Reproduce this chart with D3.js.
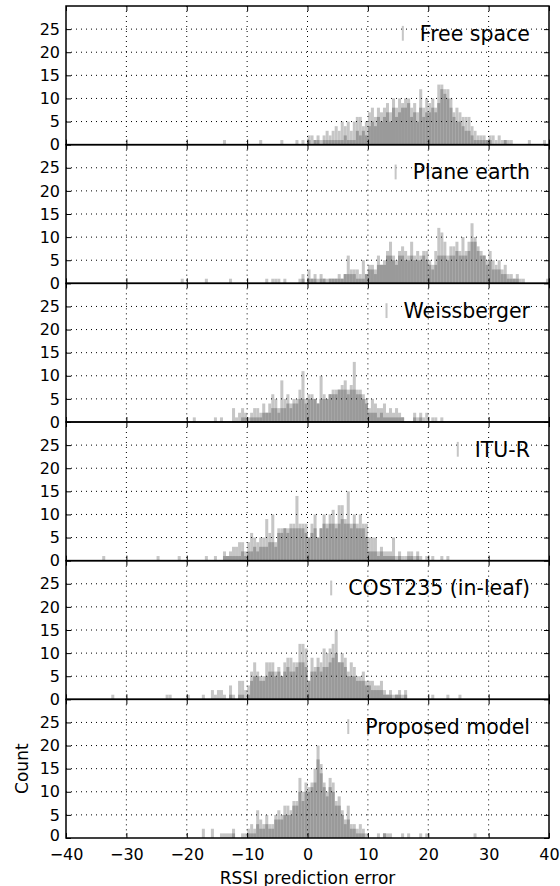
<!DOCTYPE html>
<html><head><meta charset="utf-8">
<script src="https://cdn.jsdelivr.net/npm/d3@7"></script>
<style>body{margin:0;background:#fff} svg text{font-family:"DejaVu Sans",sans-serif}</style>
</head><body><svg id="c" width="560" height="886"></svg>
<script>
// ---- data ----
const panelNames = ["Free space","Plane earth","Weissberger","ITU-R","COST235 (in-leaf)","Proposed model"];
const binWidth = 0.5;
const xTicks = [-40,-30,-20,-10,0,10,20,30,40];
const xTickLabels = ["\u221240","\u221230","\u221220","\u221210","0","10","20","30","40"];
const yTicks = [0,5,10,15,20,25];
const xLabel = "RSSI prediction error";
const yLabel = "Count";

// Panel 1: Free space (bins start at -14, step 0.5)
const p1Start = -14;
const p1Light = [1,0,0,0,0,0,0,0,0,0,0,0,1,0,0,0,0,0,0,1,0,0,0,0,1,0,1,0,
  2,2,1,2,1,2,3,2,3,4,3,5,4,5,3,5,6,6,4,5,
  7,8,6,8,7,8,9,7,10,8,10,9,10,10,8,9,7,12,8,10,
  9,10,8,13,13,12,12,10,7,8,7,6,6,6,4,3,2,2,2,1,
  2,2,1,2,1,1,1,1,0,0,0,0,0,1,0,0,0,0,1];
const p1Dark = [0,0,0,0,0,0,0,0,0,0,0,0,0,0,0,0,0,0,0,0,0,0,0,0,0,0,0,0,
  1,0,1,1,0,1,1,1,1,1,1,1,2,1,1,1,3,2,3,2,
  4,5,4,6,5,6,7,5,8,6,7,8,8,9,6,7,5,8,6,7,
  7,8,7,9,12,11,10,8,6,5,5,4,3,3,2,1,1,1,1,1,
  1,0,0,0,0,1,0,0,0,0,0,0,0,0,0,0,0,0,0];

// Panel 2: Plane earth
const p2Start = -21;
const p2Light = [1,0,0,0,0,0,0,0,1,0,0,0,0,0,0,0,1,0,0,0,0,0,0,0,0,0,0,0,1,0,1,1,1,0,1,0,0,0,0,1,2,0,
  3,1,2,1,2,1,1,1,1,1,2,1,2,6,3,3,3,2,5,2,
  4,4,3,6,4,5,7,9,6,5,7,8,7,6,9,6,7,6,7,7,
  5,4,7,12,11,9,6,8,8,9,7,10,7,9,13,10,8,7,6,5,
  7,5,4,5,3,4,2,2,1,2,1,1,0,0,0,0,0,0,0,1];
const p2Dark = [0,0,0,0,0,0,0,0,0,0,0,0,0,0,0,0,0,0,0,0,0,0,0,0,0,0,0,0,0,0,0,0,0,0,0,0,0,0,0,0,1,0,
  1,1,1,0,1,1,0,1,1,1,1,1,2,2,2,2,1,1,1,2,
  3,3,2,4,4,4,6,6,5,4,6,6,5,5,6,5,5,5,6,5,
  4,3,4,6,6,6,5,6,6,7,6,6,6,7,9,9,7,6,6,4,
  5,3,3,3,2,2,1,1,1,1,0,0,0,0,0,0,0,0,0,0];

// Panel 3: Weissberger
const p3Start = -19;
const p3Light = [1,0,0,0,0,0,0,1,0,1,0,0,0,3,1,2,3,2,1,2,
  3,3,2,4,2,4,6,5,3,9,5,6,4,5,5,7,11,5,
  6,6,5,4,10,6,5,6,7,7,7,8,9,7,8,13,7,7,6,5,
  3,5,4,3,3,4,2,3,2,3,2,1,0,0,0,2,1,2,1,2,
  0,1,1,0,1];
const p3Dark = [0,0,0,0,0,0,0,0,0,0,0,0,0,0,0,0,1,1,0,1,
  1,1,1,2,2,2,3,3,2,3,3,4,3,4,4,5,5,4,
  5,5,5,4,5,5,5,6,6,6,7,7,7,6,7,7,6,6,5,4,
  2,2,2,1,2,1,1,1,1,1,1,1,0,0,0,1,0,1,0,0,
  0,0,0,0,0];

// Panel 4: ITU-R
const p4Start = -34;
const p4Light = [1,0,0,0,0,0,0,0,0,0,0,0,0,0,0,0,0,0,1,0,0,0,0,0,0,1,0,0,0,0,0,0,0,0,1,0,0,1,0,0,
  2,1,2,3,3,4,4,2,4,6,5,4,5,5,9,6,10,4,7,7,7,7,8,8,14,8,8,8,
  5,8,10,5,7,10,8,10,11,8,12,12,9,15,8,10,8,10,8,8,
  5,5,5,2,3,2,2,2,5,1,2,1,1,2,2,1,2,1,0,1,
  0,1,0,0,1,0,1];
const p4Dark = [0,0,0,0,0,0,0,0,0,0,0,0,0,0,0,0,0,0,0,0,0,0,0,0,0,0,0,0,0,0,0,0,0,0,0,0,0,0,0,0,
  1,1,1,1,1,1,2,1,2,2,3,2,3,3,3,4,4,3,6,6,7,6,7,7,7,7,7,6,
  5,6,7,5,7,8,7,8,8,7,8,9,8,8,7,8,7,7,7,5,
  2,2,2,1,2,1,1,1,1,0,1,0,0,1,1,0,1,0,0,0,
  0,0,0,0,0,0,0];

// Panel 5: COST235 (in-leaf)
const p5Start = -32.5;
const p5Light = [1,0,0,0,0,0,0,0,0,0,0,0,0,0,0,0,0,0,1,1,0,0,0,0,0,1,0,0,0,0,1,0,0,2,1,2,2,1,0,3,1,0,4,4,2,3,
  6,8,6,5,5,8,8,8,6,7,5,8,9,9,8,8,12,12,11,
  4,9,7,9,8,11,10,11,12,15,8,10,9,6,8,7,5,5,6,4,
  4,4,3,3,4,2,1,2,1,1,2,1,2,0,0,0,0,0,0,0,
  0,1,0,0,0,0,1,0,0,0,1];
const p5Dark = [0,0,0,0,0,0,0,0,0,0,0,0,0,0,0,0,0,0,0,0,0,0,0,0,0,0,0,0,0,0,0,0,0,0,0,0,0,0,0,1,0,0,1,1,0,1,
  4,5,5,4,4,5,6,6,5,6,5,6,7,6,6,7,8,8,7,
  4,6,6,7,6,7,7,8,9,10,8,8,7,5,5,5,4,4,4,3,
  3,2,2,2,2,1,1,1,0,1,1,0,1,0,0,0,0,0,0,0,
  0,0,0,0,0,0,0,0,0,0,0];

// Panel 6: Proposed model
const p6Start = -18;
const p6Light = [0,2,0,0,2,0,0,1,1,1,1,2,0,0,1,1,
  2,3,2,6,4,3,5,3,3,5,6,5,7,7,6,8,8,13,10,12,
  11,12,15,20,16,12,10,13,12,8,9,6,4,7,3,3,2,3,2,1,
  0,0,0,1,0,1,1,1,0,0,0,1,0,1,0,0,0,1,0,1,
  0,0,0,0,0,0,0,0,0,0,0,0,0,0,0,1,0];
const p6Dark = [0,0,0,0,0,0,0,0,0,0,0,1,0,0,0,0,
  1,1,1,3,2,2,3,2,2,4,4,4,5,5,5,7,7,10,8,10,
  10,11,12,17,14,11,9,11,10,7,7,5,3,4,2,2,1,1,1,0,
  0,0,0,0,0,1,0,0,0,0,0,0,0,0,0,0,0,0,0,0,
  0,0,0,0,0,0,0,0,0,0,0,0,0,0,0,0,0];

const panels = [
  {name: panelNames[0], start: p1Start, light: p1Light, dark: p1Dark},
  {name: panelNames[1], start: p2Start, light: p2Light, dark: p2Dark},
  {name: panelNames[2], start: p3Start, light: p3Light, dark: p3Dark},
  {name: panelNames[3], start: p4Start, light: p4Light, dark: p4Dark},
  {name: panelNames[4], start: p5Start, light: p5Light, dark: p5Dark},
  {name: panelNames[5], start: p6Start, light: p6Light, dark: p6Dark}
];

// ---- layout ----
const mLeft = 66, mRight = 549, mTop = 6, mBottom = 838;
const nP = panels.length, ph = (mBottom - mTop) / nP;
const lightColor = "#c6c6c6", darkColor = "#9a9a9a";
const svg = d3.select("#c");
const x = d3.scaleLinear().domain([-40, 40]).range([mLeft, mRight]);
const y = d3.scaleLinear().domain([0, 30]).range([ph, 0]);

panels.forEach((p, i) => {
  const g = svg.append("g").attr("transform", `translate(0,${mTop + i * ph})`);
  const bins = p.light.map((v, k) => ({x0: p.start + k * binWidth, light: v, dark: p.dark[k]}));

  g.append("g").selectAll("rect").data(bins.filter(d => d.light > 0)).join("rect")
    .attr("x", d => x(d.x0)).attr("width", d => x(d.x0 + binWidth) - x(d.x0))
    .attr("y", d => y(d.light)).attr("height", d => ph - y(d.light))
    .attr("fill", lightColor);
  g.append("g").selectAll("rect").data(bins.filter(d => d.dark > 0)).join("rect")
    .attr("x", d => x(d.x0)).attr("width", d => x(d.x0 + binWidth) - x(d.x0))
    .attr("y", d => y(d.dark)).attr("height", d => ph - y(d.dark))
    .attr("fill", darkColor);

  // grid (dotted, above bars)
  const grid = g.append("g").attr("stroke", "#000").attr("stroke-width", 1).attr("stroke-dasharray", "1,4");
  grid.selectAll("line.gx").data(xTicks.slice(1, -1)).join("line").attr("class", "gx")
    .attr("x1", d => x(d)).attr("x2", d => x(d)).attr("y1", 0).attr("y2", ph);
  grid.selectAll("line.gy").data(yTicks.slice(1)).join("line").attr("class", "gy")
    .attr("x1", mLeft).attr("x2", mRight).attr("y1", d => y(d)).attr("y2", d => y(d));

  // axes (inward ticks)
  const ax = g.append("g").attr("transform", `translate(${mLeft},0)`)
    .call(d3.axisLeft(y).tickValues(yTicks).tickSize(-5).tickPadding(6));
  const axR = g.append("g").attr("transform", `translate(${mRight},0)`)
    .call(d3.axisRight(y).tickValues(yTicks).tickSize(-5).tickFormat(""));
  const axT = g.append("g").attr("transform", `translate(0,0)`)
    .call(d3.axisTop(x).tickValues(xTicks).tickSize(-5).tickFormat(""));
  const axB = g.append("g").attr("transform", `translate(0,${ph})`)
    .call(d3.axisBottom(x).tickValues(xTicks).tickSize(-5).tickPadding(10.5)
      .tickFormat((d, k) => i === nP - 1 ? xTickLabels[k] : ""));
  [ax, axR, axT, axB].forEach(a => {
    a.select(".domain").remove();
    a.selectAll(".tick line").attr("stroke", "#000").attr("stroke-width", 1);
    a.selectAll("text").attr("font-family", "DejaVu Sans").attr("font-size", 16).attr("fill", "#000");
  });
  // keep the lowest "0" label of the bottom panel clear of the x tick labels
  if (i === nP - 1) {
    ax.selectAll(".tick").filter(d => d === 0).select("text").attr("dy", "0.18em");
  }

  // legend
  const lx = 530, ly = 34.7;
  const t = g.append("text").attr("x", lx).attr("y", ly).attr("text-anchor", "end")
    .attr("font-size", 20.5).attr("fill", "#000").text(p.name);
  const tw = t.node().getComputedTextLength();
  g.append("rect").attr("x", lx - tw - 18).attr("y", ly - 14.8).attr("width", 2).attr("height", 14.8)
    .attr("fill", lightColor);

  // frame
  g.append("rect").attr("x", mLeft).attr("y", 0).attr("width", mRight - mLeft).attr("height", ph)
    .attr("fill", "none").attr("stroke", "#000").attr("stroke-width", 1.5);
});

svg.append("text").attr("x", (mLeft + mRight) / 2).attr("y", 883.5).attr("text-anchor", "middle")
  .attr("font-size", 17).attr("fill", "#000").text(xLabel);
svg.append("text").attr("transform", `translate(28,${mTop + (nP - 0.5) * ph}) rotate(-90)`)
  .attr("text-anchor", "middle").attr("font-size", 17).attr("fill", "#000").text(yLabel);
</script></body></html>
